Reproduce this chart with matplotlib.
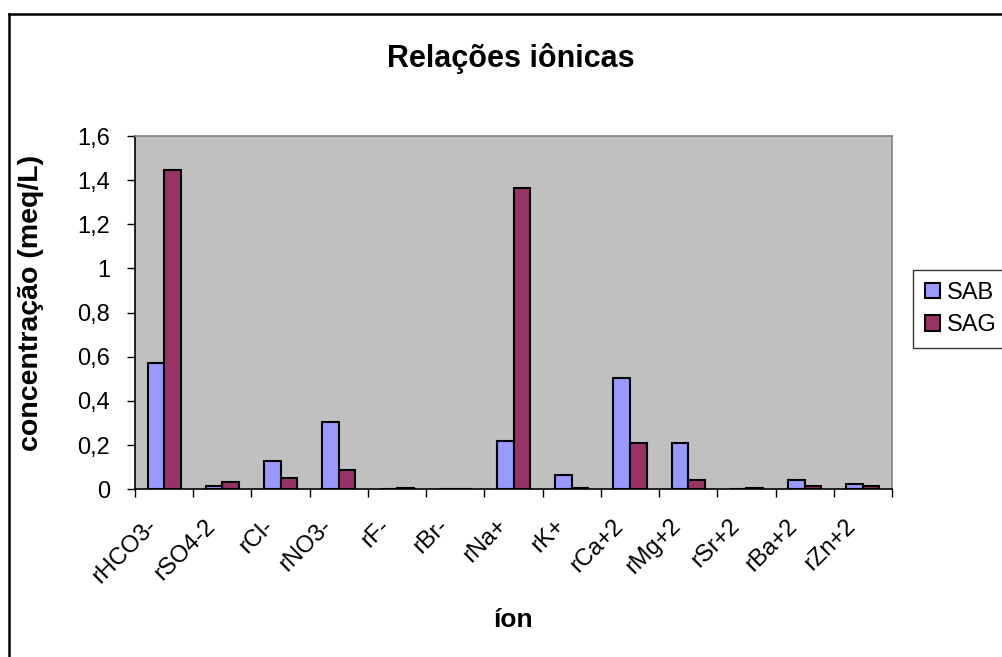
import matplotlib.pyplot as plt
import matplotlib.transforms as mtransforms
import numpy as np
from matplotlib.lines import Line2D

plt.rcParams['font.family'] = ['Liberation Sans', 'DejaVu Sans']

ions = ['rHCO3-', 'rSO4-2', 'rCl-', 'rNO3-', 'rF-', 'rBr-', 'rNa+', 'rK+',
        'rCa+2', 'rMg+2', 'rSr+2', 'rBa+2', 'rZn+2']
sab = [0.570, 0.014, 0.130, 0.304, 0.0, 0.0, 0.218, 0.067,
       0.505, 0.209, 0.0, 0.043, 0.025]
sag = [1.445, 0.033, 0.052, 0.086, 0.005, 0.0, 1.366, 0.005,
       0.209, 0.043, 0.005, 0.015, 0.015]

W, H = 1002, 657
fig = plt.figure(figsize=(W / 100, H / 100), dpi=100)
ax = fig.add_axes([135 / W, 1 - 489.3 / H, 757 / W, (489.3 - 136) / H])
ax.set_facecolor('#C0C0C0')

x = np.arange(len(ions))
bw = 0.285
ax.bar(x - bw / 2, sab, bw, color='#9999FF', edgecolor='black', linewidth=1.5, label='SAB')
ax.bar(x + bw / 2, sag, bw, color='#993366', edgecolor='black', linewidth=1.5, label='SAG')

ax.set_xlim(-0.5, len(ions) - 0.5)
ax.set_ylim(0, 1.6)
ax.set_yticks(np.arange(0, 1.61, 0.2))
ax.set_yticklabels(['0', '0,2', '0,4', '0,6', '0,8', '1', '1,2', '1,4', '1,6'], fontsize=17)

# ticks sit between the groups, labels at the group centres
ax.set_xticks(np.arange(-0.5, len(ions), 1.0))
ax.set_xticklabels([])
ax.set_xticks(x, minor=True)
ax.set_xticklabels(ions, minor=True, rotation=45, ha='right', va='top',
                   rotation_mode='anchor', fontsize=17)
ax.tick_params(axis='x', which='minor', length=0, pad=14)
ax.tick_params(axis='both', which='major', length=6, width=1, direction='out')
ax.tick_params(axis='y', pad=12)

# nudge the slanted labels so their ends sit just left of the group centre
shift = mtransforms.ScaledTranslation(-18 / 100, -6 / 100, fig.dpi_scale_trans)
for lbl in ax.get_xticklabels(minor=True):
    lbl.set_transform(lbl.get_transform() + shift)

for side in ['top', 'right']:
    ax.spines[side].set_color('#808080')
    ax.spines[side].set_linewidth(1.2)
for side in ['left', 'bottom']:
    ax.spines[side].set_color('black')
    ax.spines[side].set_linewidth(1.2)

fig.text(511 / W, 1 - 59 / H, 'Relações iônicas', fontsize=22, fontweight='bold',
         ha='center', va='center')
fig.text(31 / W, 1 - 303 / H, 'concentração (meq/L)', fontsize=20.5, fontweight='bold',
         ha='center', va='center', rotation=90)
fig.text(513 / W, 1 - 620 / H, 'íon', fontsize=19, fontweight='bold',
         ha='center', va='center')

leg = fig.legend(loc='center left', bbox_to_anchor=(913 / W, 1 - 309 / H),
                 fontsize=17, frameon=True, fancybox=False, handlelength=0.64,
                 handleheight=0.64, handletextpad=0.3, borderpad=0.5,
                 labelspacing=0.45, borderaxespad=0)
leg.get_frame().set_edgecolor('black')
leg.get_frame().set_linewidth(1.0)

# outer chart border
fig.add_artist(Line2D([9 / W, 1.0], [1 - 14 / H, 1 - 14 / H], color='black', lw=1.8,
                      transform=fig.transFigure))
fig.add_artist(Line2D([9 / W, 9 / W], [1 - 14 / H, 0], color='black', lw=1.8,
                      transform=fig.transFigure))

fig.savefig('out.png', dpi=100)
